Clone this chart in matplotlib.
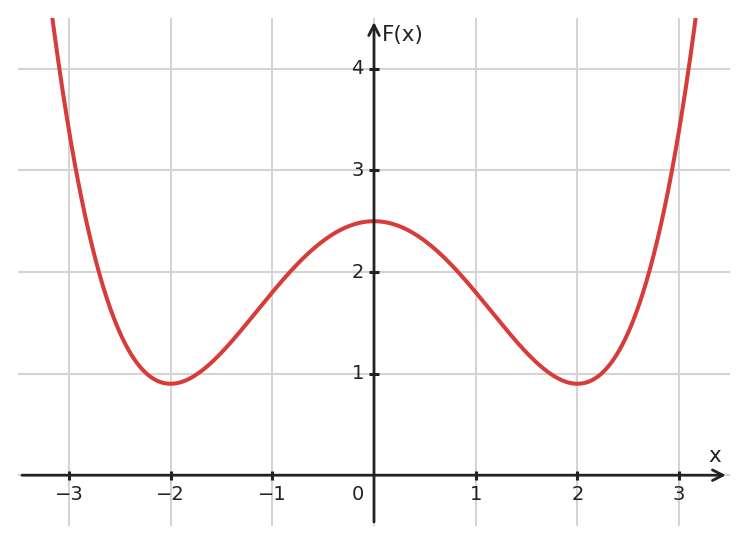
import numpy as np
import matplotlib
matplotlib.use("Agg")
import matplotlib.pyplot as plt

# Data: F(x) as polynomial coefficients (highest power first)
poly_coeffs = [0.1, 0.0, -0.8, 0.0, 2.5]
x_ticks = [-3, -2, -1, 1, 2, 3]
y_ticks = [1, 2, 3, 4]
x_label = "x"
y_label = "F(x)"

plt.rcParams['font.family'] = ['DejaVu Sans']

fig = plt.figure(figsize=(7.48, 5.45), dpi=100)
ax = fig.add_axes([18/748, 1 - 526/545, 712/748, 508/545])
ax.set_xlim(-3.5, 3.5)
ax.set_ylim(-0.5, 4.5)
for s in ax.spines.values():
    s.set_visible(False)
ax.set_xticks([])
ax.set_yticks([])

grid_c = '#d4d4d4'
for xv in x_ticks:
    ax.axvline(xv, color=grid_c, lw=1.5, zorder=1)
for yv in y_ticks:
    ax.axhline(yv, color=grid_c, lw=1.5, zorder=1)
ax.axhline(0, color=grid_c, lw=1.5, zorder=1)
ax.axvline(0, color=grid_c, lw=1.5, zorder=1)

xs = np.linspace(-3.5, 3.5, 1000)
ax.plot(xs, np.polyval(poly_coeffs, xs), color='#d63c3a', lw=2.9, zorder=3,
        solid_capstyle='round')

axc = '#222222'
astyle = '->,head_length=0.75,head_width=0.38'
ax.annotate('', xy=(3.46, 0), xytext=(-3.46, 0),
            arrowprops=dict(arrowstyle=astyle, lw=2, color=axc,
                            shrinkA=0, shrinkB=0), zorder=4)
ax.annotate('', xy=(0, 4.46), xytext=(0, -0.46),
            arrowprops=dict(arrowstyle=astyle, lw=2, color=axc,
                            shrinkA=0, shrinkB=0), zorder=4)

tl = 0.045
for xv in x_ticks:
    ax.plot([xv, xv], [-tl, tl], color=axc, lw=2.2, zorder=4, solid_capstyle='butt')
    ax.text(xv, -0.19, f"{xv}".replace('-', '\u2212'), ha='center', va='center',
            fontsize=14, color=axc)
for yv in y_ticks:
    ax.plot([-tl, tl], [yv, yv], color=axc, lw=2.2, zorder=4, solid_capstyle='butt')
    ax.text(-0.1, yv, f"{yv}", ha='right', va='center', fontsize=14, color=axc)
ax.text(-0.1, -0.19, "0", ha='right', va='center', fontsize=14, color=axc)

ax.text(0.08, 4.33, y_label, ha='left', va='center', fontsize=15.5, color=axc)
ax.text(3.35, 0.19, x_label, ha='center', va='center', fontsize=15.5, color=axc)

fig.savefig("out.png", dpi=100)
